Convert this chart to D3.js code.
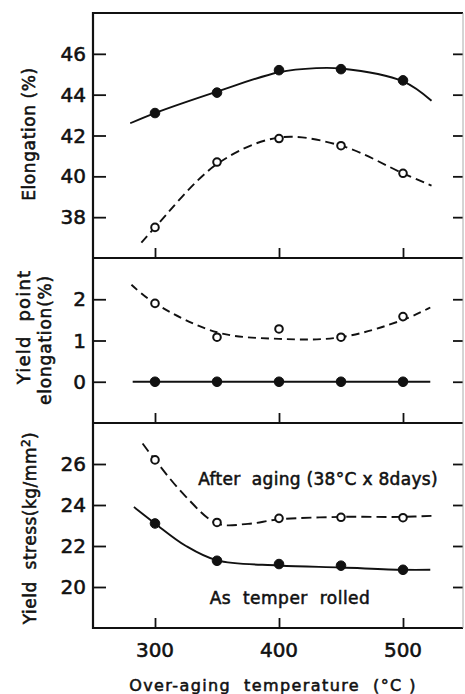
<!DOCTYPE html>
<html><head><meta charset="utf-8">
<script src="https://cdn.jsdelivr.net/npm/d3@7"></script>
<style>
html,body{margin:0;padding:0;background:#fff;}
svg text{font-family:"DejaVu Sans",sans-serif;fill:#111;stroke:#111;stroke-width:0.55px;white-space:pre;}
</style></head>
<body>
<svg id="c" width="465" height="694"></svg>
<script>
// ---- data ----
const temps = [300, 350, 400, 450, 500];
const xTicks = [300, 400, 500];

const elongRolled = [43.1, 44.1, 45.2, 45.25, 44.7];
const elongAged   = [37.5, 40.7, 41.85, 41.5, 40.15];
const elongRolledFitT = [280, 300, 350, 400, 430, 450, 500, 523];
const elongRolledFitV = [42.6, 43.1, 44.15, 45.1, 45.3, 45.28, 44.65, 43.7];
const elongAgedFitT = [289, 300, 350, 400, 450, 500, 523];
const elongAgedFitV = [36.75, 37.5, 40.6, 41.9, 41.5, 40.15, 39.55];
const elongTicks = [38, 40, 42, 44, 46];

const ypeAged   = [1.9, 1.08, 1.28, 1.08, 1.58];
const ypeRolled = [0, 0, 0, 0, 0];
const ypeAgedFitT = [281, 300, 350, 400, 450, 500, 522];
const ypeAgedFitV = [2.35, 1.9, 1.2, 1.04, 1.08, 1.5, 1.8];
const ypeRolledFitT = [282, 522];
const ypeRolledFitV = [0, 0];
const ypeTicks = [0, 1, 2];

const ysAged   = [26.2, 23.15, 23.35, 23.4, 23.38];
const ysRolled = [23.1, 21.28, 21.12, 21.04, 20.84];
const ysAgedFitT = [290, 300, 325, 350, 375, 400, 450, 500, 526];
const ysAgedFitV = [27.0, 26.2, 24.4, 23.1, 23.08, 23.3, 23.42, 23.42, 23.48];
const ysRolledFitT = [283, 300, 325, 350, 400, 450, 500, 522];
const ysRolledFitV = [23.9, 23.1, 22.0, 21.3, 21.05, 20.95, 20.84, 20.84];
const ysTicks = [20, 22, 24, 26];

// ---- layout ----
const svg = d3.select("#c");
const L = 93, R = 463;
const x = d3.scaleLinear().domain([250, 550]).range([L, 465]);

const panels = [
  {top: 13, bottom: 258, domain: [36, 48], ticks: elongTicks,
   series: [
     {vals: elongRolled, fitT: elongRolledFitT, fitV: elongRolledFitV, filled: true, dash: null},
     {vals: elongAged, fitT: elongAgedFitT, fitV: elongAgedFitV, filled: false, dash: "9,5"}
   ]},
  {top: 258, bottom: 423, domain: [-1, 3], ticks: ypeTicks,
   series: [
     {vals: ypeAged, fitT: ypeAgedFitT, fitV: ypeAgedFitV, filled: false, dash: "8,5"},
     {vals: ypeRolled, fitT: ypeRolledFitT, fitV: ypeRolledFitV, filled: true, dash: null}
   ]},
  {top: 423, bottom: 628, domain: [18, 28], ticks: ysTicks,
   series: [
     {vals: ysAged, fitT: ysAgedFitT, fitV: ysAgedFitV, filled: false, dash: "10,5"},
     {vals: ysRolled, fitT: ysRolledFitT, fitV: ysRolledFitV, filled: true, dash: null}
   ]}
];

panels.forEach(p => {
  const y = d3.scaleLinear().domain(p.domain).range([p.bottom, p.top]);
  const g = svg.append("g");
  const la = g.append("g").attr("transform", `translate(${L},0)`)
    .call(d3.axisRight(y).tickValues(p.ticks).tickSize(13).tickFormat(""));
  la.select(".domain").remove();
  la.selectAll("line").attr("stroke", "#111").attr("stroke-width", 1.8);
  g.selectAll("text.yl").data(p.ticks).enter().append("text")
    .attr("class", "yl").attr("x", L - 7).attr("y", d => y(d) + 7)
    .attr("text-anchor", "end").attr("font-size", 20).text(d => d);
  const ra = g.append("g").attr("transform", `translate(${R},0)`)
    .call(d3.axisLeft(y).tickValues(p.ticks).tickSize(10).tickFormat(""));
  ra.select(".domain").remove();
  ra.selectAll("line").attr("stroke", "#111").attr("stroke-width", 1.8);
  const xa = g.append("g").attr("transform", `translate(0,${p.bottom})`)
    .call(d3.axisTop(x).tickValues(xTicks).tickSize(10).tickFormat(""));
  xa.select(".domain").remove();
  xa.selectAll("line").attr("stroke", "#111").attr("stroke-width", 1.8);

  const line = d3.line().x(d => x(d[0])).y(d => y(d[1])).curve(d3.curveCatmullRom.alpha(0.5));
  p.series.forEach(s => {
    const pts = s.fitT.map((t, i) => [t, s.fitV[i]]);
    g.append("path").attr("d", line(pts)).attr("fill", "none")
      .attr("stroke", "#111").attr("stroke-width", 1.9)
      .attr("stroke-dasharray", s.dash);
    g.selectAll(null).data(temps.map((t, i) => [t, s.vals[i]])).enter().append("circle")
      .attr("cx", d => x(d[0])).attr("cy", d => y(d[1]))
      .attr("r", s.filled ? 4.8 : 3.8)
      .attr("fill", s.filled ? "#111" : "#fff")
      .attr("stroke", "#111").attr("stroke-width", s.filled ? 1 : 2);
  });
});

// frame
const frame = svg.append("g").attr("stroke", "#111").attr("stroke-width", 2.2);
frame.append("line").attr("x1", L).attr("x2", L).attr("y1", 12).attr("y2", 629);
[13, 258, 423, 628].forEach(yy => frame.append("line").attr("x1", L - 1).attr("x2", R).attr("y1", yy).attr("y2", yy));
svg.append("line").attr("x1", R).attr("x2", R).attr("y1", 13).attr("y2", 628)
  .attr("stroke", "#aaa").attr("stroke-width", 1);

// x tick labels
svg.selectAll("text.xl").data(xTicks).enter().append("text")
  .attr("class", "xl").attr("x", d => x(d)).attr("y", 657)
  .attr("text-anchor", "middle").attr("font-size", 20).text(d => d);

// axis titles
svg.append("text").attr("x", 273).attr("y", 691).attr("text-anchor", "middle")
  .attr("font-size", 16).attr("letter-spacing", 1.4).text("Over-aging  temperature  (°C )");

function vtitle(txt, cx, cy, size, ls) {
  svg.append("text").attr("transform", `translate(${cx},${cy}) rotate(-90)`)
    .attr("text-anchor", "middle").attr("font-size", size).attr("letter-spacing", ls || 0).text(txt);
}
vtitle("Elongation (%)", 35, 134, 17, 0.6);
vtitle("Yield  point", 30, 327, 18, 1.2);
vtitle("elongation(%)", 51, 340, 17, 0.8);
svg.append("text").attr("transform", "translate(36,528) rotate(-90)")
  .attr("text-anchor", "middle").attr("font-size", 17).attr("letter-spacing", 0.5)
  .html('Yield  stress(kg/mm<tspan dy="-6" font-size="12">2</tspan><tspan dy="6">)</tspan>');

// annotations
svg.append("text").attr("x", 318).attr("y", 485).attr("text-anchor", "middle")
  .attr("font-size", 17).attr("letter-spacing", 0.3).text("After  aging (38°C x 8days)");
svg.append("text").attr("x", 290).attr("y", 604).attr("text-anchor", "middle")
  .attr("font-size", 17).attr("letter-spacing", 0.5).text("As  temper  rolled");
</script>
</body></html>
